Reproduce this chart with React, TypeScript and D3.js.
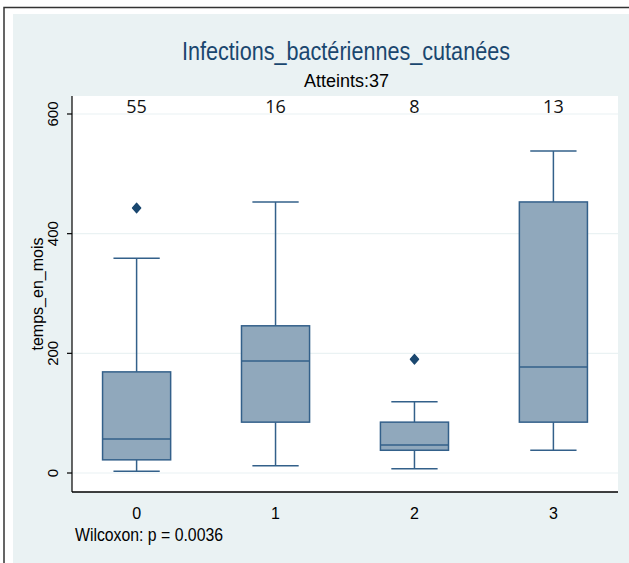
import React from "react";
import * as d3 from "d3";

const categories = ["0", "1", "2", "3"];
const counts = [55, 16, 8, 13];
const lowerWhisker = [3, 12, 7, 38];
const q1 = [22, 85, 38, 85];
const median = [57, 187, 47, 177];
const q3 = [169, 246, 85, 453];
const upperWhisker = [359, 453, 119, 538];
const outliers: number[][] = [[443], [], [190], []];
const yTicks = [0, 200, 400, 600];

const W = 629;
const H = 563;
const plot = { left: 72, right: 618, top: 96, bottom: 492 };

const SANS = "'Liberation Sans', Arial, sans-serif";

export default function App() {
  const x = d3
    .scaleBand<string>()
    .domain(categories)
    .range([plot.left, plot.right])
    .paddingInner(0.51)
    .paddingOuter(0.22);
  const y = d3.scaleLinear().domain([0, 600]).range([473, 114]);
  const bw = x.bandwidth();
  const capW = bw * 0.68;
  const diamondType = (d3 as any).symbolDiamond2 || d3.symbolDiamond;
  const diamond = d3.symbol().type(diamondType).size(44)();

  const boxFill = "#90a8bc";
  const boxStroke = "#33608a";

  return (
    <svg width={W} height={H} style={{ position: "absolute", left: 0, top: 0 }}>
      <rect x={0} y={0} width={W} height={H} fill="#ffffff" />
      <rect x={4} y={7.5} width={W + 20} height={H + 20} fill="none" stroke="#333" strokeWidth={1.5} />
      <rect x={13} y={14} width={W - 13} height={H - 14} fill="#eaf2f3" />
      <rect x={plot.left} y={plot.top} width={plot.right - plot.left} height={plot.bottom - plot.top} fill="#ffffff" />
      {yTicks.map((t) => (
        <line key={"g" + t} x1={plot.left} x2={plot.right} y1={y(t)} y2={y(t)} stroke="#eaf2f3" strokeWidth={1.2} />
      ))}
      <line x1={plot.left} x2={plot.left} y1={plot.top} y2={plot.bottom} stroke="#000" strokeWidth={1.2} />
      <line x1={plot.left} x2={plot.right} y1={plot.bottom} y2={plot.bottom} stroke="#000" strokeWidth={1.5} />
      {yTicks.map((t) => (
        <g key={"t" + t}>
          <line x1={plot.left - 5} x2={plot.left} y1={y(t)} y2={y(t)} stroke="#000" strokeWidth={1.2} />
          <text
            transform={`translate(${58},${y(t)}) rotate(-90)`}
            textAnchor="middle"
            fontFamily={SANS}
            fontSize={15}
            fill="#000"
          >
            {t}
          </text>
        </g>
      ))}
      <text
        transform={`translate(${43},${(plot.top + plot.bottom) / 2}) rotate(-90)`}
        textAnchor="middle"
        fontFamily={SANS}
        fontSize={16}
        fill="#000"
      >
        temps_en_mois
      </text>
      {categories.map((c, i) => {
        const cx = (x(c) as number) + bw / 2;
        return (
          <g key={c}>
            <text x={cx} y={519} textAnchor="middle" fontFamily={SANS} fontSize={16} fill="#000">
              {c}
            </text>
            <text x={cx} y={113} textAnchor="middle" fontFamily="'Open Sans', 'Noto Sans', sans-serif" fontSize={18} fill="#111">
              {counts[i]}
            </text>
            <line x1={cx} x2={cx} y1={y(upperWhisker[i])} y2={y(q3[i])} stroke={boxStroke} strokeWidth={1.5} />
            <line x1={cx} x2={cx} y1={y(q1[i])} y2={y(lowerWhisker[i])} stroke={boxStroke} strokeWidth={1.5} />
            <line x1={cx - capW / 2} x2={cx + capW / 2} y1={y(upperWhisker[i])} y2={y(upperWhisker[i])} stroke={boxStroke} strokeWidth={1.5} />
            <line x1={cx - capW / 2} x2={cx + capW / 2} y1={y(lowerWhisker[i])} y2={y(lowerWhisker[i])} stroke={boxStroke} strokeWidth={1.5} />
            <rect
              x={x(c) as number}
              y={y(q3[i])}
              width={bw}
              height={y(q1[i]) - y(q3[i])}
              fill={boxFill}
              stroke={boxStroke}
              strokeWidth={1.5}
            />
            <line x1={x(c) as number} x2={(x(c) as number) + bw} y1={y(median[i])} y2={y(median[i])} stroke={boxStroke} strokeWidth={1.5} />
            {outliers[i].map((o, j) => (
              <path
                key={j}
                d={diamond as string}
                transform={`translate(${cx},${y(o)}) scale(1,1.15)`}
                fill="#1a476f"
                stroke="#1a476f"
                strokeWidth={1.2}
                strokeLinejoin="round"
              />
            ))}
          </g>
        );
      })}
      <text x={182} y={60} textLength={328} lengthAdjust="spacingAndGlyphs" fontFamily={SANS} fontSize={25} fill="#1a476f">
        Infections_bactériennes_cutanées
      </text>
      <text x={304} y={87} textLength={85} lengthAdjust="spacingAndGlyphs" fontFamily={SANS} fontSize={18} fill="#000">
        Atteints:37
      </text>
      <text x={75} y={541} textLength={148} lengthAdjust="spacingAndGlyphs" fontFamily={SANS} fontSize={18} fill="#000">
        Wilcoxon: p = 0.0036
      </text>
    </svg>
  );
}
